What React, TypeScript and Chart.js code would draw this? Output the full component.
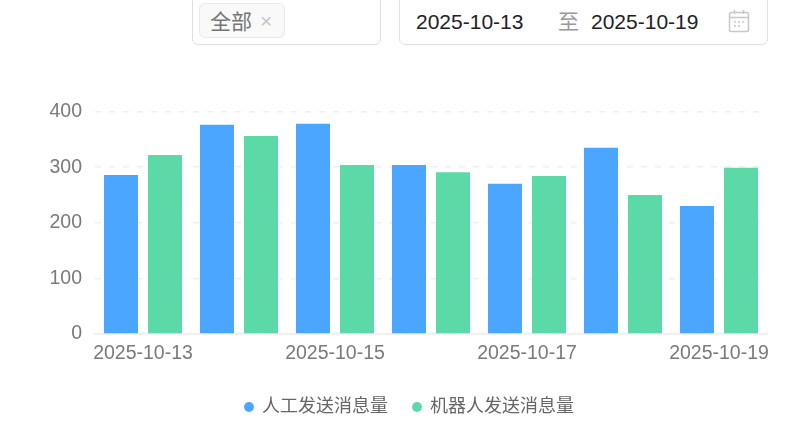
import React, { useEffect, useRef } from "react";
import { Chart, registerables } from "chart.js";

Chart.register(...registerables);

const categories = ["2025-10-13", "2025-10-14", "2025-10-15", "2025-10-16", "2025-10-17", "2025-10-18", "2025-10-19"];
const humanValues = [286, 376, 378, 304, 270, 335, 230];
const botValues = [322, 356, 304, 291, 284, 250, 299];
const humanName = "人工发送消息量";
const botName = "机器人发送消息量";
const yTicks = [0, 100, 200, 300, 400];
const FONT = "'Liberation Sans', 'Noto Sans CJK SC', sans-serif";

// The y labels are clipped to the scale's box, which is narrower than the labels here.
const widenLabelArea = {
  id: "widenLabelArea",
  beforeDraw(c: any) { c.scales.y.left = 40; },
};

export default function App() {
  const ref = useRef<HTMLCanvasElement>(null);
  useEffect(() => {
    const chart = new Chart(ref.current!, {
      type: "bar",
      data: {
        labels: categories,
        datasets: [
          { label: humanName, data: humanValues, backgroundColor: "#4BA6FF", categoryPercentage: 0.917, barPercentage: 0.773 },
          { label: botName, data: botValues, backgroundColor: "#5BDAA8", categoryPercentage: 0.917, barPercentage: 0.773 },
        ],
      },
      options: {
        animation: false,
        responsive: false,
        layout: { padding: { top: 111.5, right: 34, bottom: 12, left: 52 } },
        plugins: {
          tooltip: { enabled: false },
          legend: {
            position: "bottom",
            labels: {
              usePointStyle: true,
              pointStyle: "circle",
              boxWidth: 8,
              boxHeight: 7,
              padding: 25,
              color: "#666",
              font: { family: FONT, size: 18 },
            },
          },
        },
        scales: {
          x: {
            afterFit: (s: any) => { s.height = s.height + 7.5; },
            grid: { display: false },
            border: { color: "#eeeeee", width: 1.5 },
            ticks: {
              autoSkip: false,
              maxRotation: 0,
              color: "#7a7a7a",
              padding: 0,
              font: { family: FONT, size: 19.5 },
              callback: (_v: any, i: number) => (i % 2 === 0 ? categories[i] : ""),
            },
          },
          y: {
            min: yTicks[0],
            max: yTicks[yTicks.length - 1],
            afterFit: (s: any) => { s.width = 43; },
            border: { display: false, dash: [6, 8] },
            grid: { color: "#efefef", lineWidth: 1.5, drawTicks: false },
            ticks: {
              stepSize: 100,
              color: "#7a7a7a",
              padding: 13,
              font: { family: FONT, size: 19.5 },
            },
          },
        },
      },
      plugins: [widenLabelArea],
    } as any);
    return () => chart.destroy();
  }, []);

  const box: React.CSSProperties = {
    position: "absolute", top: -6, height: 51, boxSizing: "border-box",
    border: "1px solid #dcdfe6", borderRadius: 6, background: "#fff",
  };
  const text: React.CSSProperties = { position: "absolute", whiteSpace: "nowrap", fontFamily: FONT, lineHeight: "26px" };

  return (
    <div style={{ position: "fixed", left: 0, top: 0, width: 801, height: 438, overflow: "hidden", background: "#fff" }}>
      <canvas ref={ref} width={801} height={438} style={{ position: "absolute", left: 0, top: 0, width: 801, height: 438 }} />
      <div style={{ ...box, left: 192, width: 189 }} />
      <div style={{ position: "absolute", left: 199, top: 3, width: 86, height: 35, boxSizing: "border-box", border: "1px solid #e9e9eb", borderRadius: 6, background: "#f9f9f9" }} />
      <span style={{ ...text, left: 210, top: 9, fontSize: 21, color: "#757575" }}>全部</span>
      <span style={{ ...text, left: 260, top: 8, fontSize: 21, color: "#c0c4cc" }}>×</span>
      <div style={{ ...box, left: 399, width: 369 }} />
      <span style={{ ...text, left: 416, top: 9, fontSize: 21, color: "#222" }}>2025-10-13</span>
      <span style={{ ...text, left: 558, top: 9, fontSize: 21, color: "#999" }}>至</span>
      <span style={{ ...text, left: 591, top: 9, fontSize: 21, color: "#222" }}>2025-10-19</span>
      <svg style={{ position: "absolute", left: 728, top: 9 }} width={22} height={24} viewBox="0 0 22 24" fill="none" stroke="#c8c8c8" strokeWidth={1.5}>
        <rect x="1.5" y="3.5" width="19" height="19" rx="2" />
        <path d="M1.5 8.5H20.5M6.5 1V5M15.5 1V5" />
        <path d="M6 13H8M10 13H12M14 13H16M6 17H8M10 17H12" />
      </svg>
    </div>
  );
}
